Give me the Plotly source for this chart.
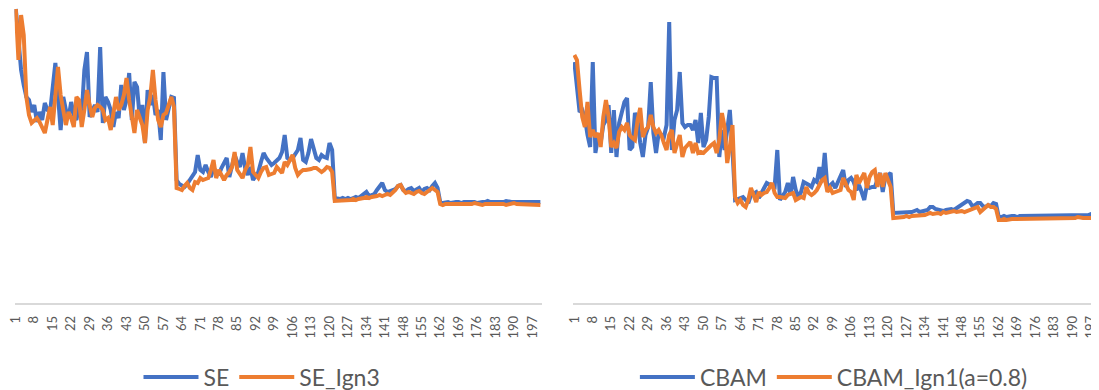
import plotly.graph_objects as go

epochs = list(range(1, 201))
tick_vals = list(range(1, 201, 7))

# Left panel
se = [291,255,230,215,203,200,188,195,178,188, 180,197,190,188,215,237,205,170,203,190,
      182,198,185,180,195,185,230,248,183,190, 195,188,253,177,203,198,190,173,188,182,
      215,190,200,227,180,218,213,182,195,157, 210,195,205,185,190,160,228,180,192,203,202,
      120,116,114,113,116,120,124,128,145,130, 128,135,128,123,132,128,125,132,138,142,
      123,135,145,138,133,147,132,125,133,120, 125,128,138,147,142,138,135,137,140,142,
      148,165,142,140,142,147,150,162,140,138, 147,161,150,142,140,145,143,142,157,150,
      102,101,101,102,101,102,101,102,103,102, 104,106,108,104,105,106,110,114,117,110,
      108,109,110,111,114,115,110,109,111,112, 109,110,112,108,111,112,110,114,117,112,
      98,97,98,98,97,98,98,98,97,98, 98,99,98,98,97,98,98,98,99,98,
      98,98,97,98,98,99,98,98,98,98, 99,98,98,98,99,99,98,98,98]

se_ign3 = [291,240,285,265,203,185,177,180,182,178, 172,167,180,193,175,200,233,205,187,175,
           188,182,173,203,200,173,190,210,195,183, 192,195,193,190,180,182,170,188,203,190,
           195,205,222,200,180,167,190,182,175,157, 190,203,230,200,180,173,185,187,195,203,193,
           112,111,110,114,117,112,110,118,117,122, 120,121,122,130,140,122,130,125,120,125,
           128,133,148,130,125,122,130,135,153,128, 125,122,128,132,133,125,126,127,133,130,
           127,138,135,140,145,132,125,128,130,130, 130,131,132,132,130,128,130,133,132,128,
           99,99,100,100,99,100,100,101,100,101, 101,102,103,102,103,103,104,105,104,105,
           106,105,107,110,114,115,110,107,108,107, 106,108,109,107,106,108,110,112,110,108,
           96,95,96,96,95,96,96,96,96,95, 96,96,96,97,96,96,95,96,96,96,
           97,96,96,96,96,95,96,96,97,96, 96,96,96,95,96,96,96,96,95]

# Right panel
cbam = [238,215,188,190,182,165,153,238,147,163, 157,175,180,195,147,190,143,177,190,198,
        202,150,153,187,180,157,143,165,173,218, 167,147,167,165,163,175,278,150,180,190,
        228,177,173,175,175,170,180,157,187,153, 160,183,223,222,222,143,170,150,173,190,150,
        100,101,102,103,100,97,105,106,108,102, 108,112,117,115,114,113,150,100,105,108,
        117,105,123,110,103,108,118,117,115,113, 120,118,133,118,147,112,115,117,112,118,
        123,130,113,120,122,118,110,115,108,100, 115,112,113,113,120,127,108,123,125,127,
        87,87,88,87,88,88,87,88,89,90, 88,89,89,90,93,93,91,90,90,89,
        90,91,91,90,92,93,95,97,99,98, 94,95,97,97,94,93,95,94,97,96,
        83,83,84,83,84,84,84,83,84,84, 84,84,85,84,84,84,85,84,84,84,
        85,84,84,85,84,84,85,85,84,85, 85,84,85,85,85,86,85,85,85]

cbam_ign1 = [245,240,210,183,173,198,163,170,163,167, 153,183,200,183,153,157,152,168,173,170,
             177,165,162,160,180,192,163,170,173,185, 173,167,170,165,157,150,165,170,147,155,
             165,143,152,155,158,147,157,147,148,147, 150,153,155,157,147,160,187,173,137,153,175,
             103,97,100,95,93,100,112,105,98,108, 105,107,108,112,117,107,103,103,103,102,
             105,106,107,100,102,103,102,113,107,105, 107,110,115,120,122,108,112,107,108,109,
             110,122,115,110,108,100,125,117,122,127, 112,123,128,130,113,127,113,127,120,113,
             82,82,83,82,83,84,83,84,84,85, 84,85,85,86,87,86,87,87,86,88,
             87,88,88,89,88,89,89,88,89,90, 91,93,93,88,90,93,95,93,93,91,
             80,80,81,80,81,81,81,81,81,81, 82,81,81,81,82,81,81,82,81,82,
             82,81,82,82,82,82,82,82,82,82, 83,82,82,82,82,82,82,82,82]

BLUE = "#4472C4"
ORANGE = "#ED7D31"
FONT = "Lato, 'Liberation Sans', sans-serif"
# page body adds an 8px offset; the figure is sized to fit the 1099x390 window
W = 1091
H = 382
LW = 4

fig = go.Figure()
fig.add_trace(go.Scatter(x=epochs, y=se, name="SE", mode="lines",
                         line=dict(color=BLUE, width=LW), xaxis="x", yaxis="y", legend="legend"))
fig.add_trace(go.Scatter(x=epochs, y=se_ign3, name="SE_Ign3", mode="lines",
                         line=dict(color=ORANGE, width=LW), xaxis="x", yaxis="y", legend="legend"))
fig.add_trace(go.Scatter(x=epochs, y=cbam, name="CBAM", mode="lines",
                         line=dict(color=BLUE, width=LW), xaxis="x2", yaxis="y2", legend="legend2"))
fig.add_trace(go.Scatter(x=epochs, y=cbam_ign1, name="CBAM_Ign1(a=0.8)", mode="lines",
                         line=dict(color=ORANGE, width=LW), xaxis="x2", yaxis="y2", legend="legend2"))

step = 2.636
left_lo = 6.5
right_lo = 565.0
xcommon = dict(showgrid=False, zeroline=False, showline=True, linecolor="#d9d9d9", linewidth=1.5,
               ticks="", tickmode="array", tickvals=tick_vals, tickangle=-90, automargin=False,
               ticklabeloverflow="allow",
               tickfont=dict(family=FONT, size=13, color="#595959"), ticklabelstandoff=6)
ycommon = dict(visible=False, range=[-3, 292], showgrid=False, zeroline=False, automargin=False)

fig.update_layout(
    width=W, height=H,
    margin=dict(l=0, r=0, t=0, b=87, autoexpand=False),
    paper_bgcolor="white", plot_bgcolor="white",
    font=dict(family=FONT, color="#595959"),
    xaxis=dict(domain=[left_lo / W, (left_lo + 200 * step) / W], range=[0.5, 200.5], anchor="y", **xcommon),
    yaxis=dict(domain=[0, 1], anchor="x", **ycommon),
    xaxis2=dict(domain=[right_lo / W, 1.0], range=[0.5, 0.5 + (W - right_lo) / step], anchor="y2", **xcommon),
    yaxis2=dict(domain=[0, 1], anchor="x2", **ycommon),
    legend=dict(orientation="h", x=0.2328, xanchor="center", y=-0.251, yanchor="middle", itemwidth=55,
                font=dict(family=FONT, size=23, color="#595959"), bgcolor="rgba(0,0,0,0)"),
    legend2=dict(orientation="h", x=0.757, xanchor="center", y=-0.251, yanchor="middle", itemwidth=55,
                 font=dict(family=FONT, size=23, color="#595959"), bgcolor="rgba(0,0,0,0)"),
    showlegend=True,
)

fig.write_html("out.html")
